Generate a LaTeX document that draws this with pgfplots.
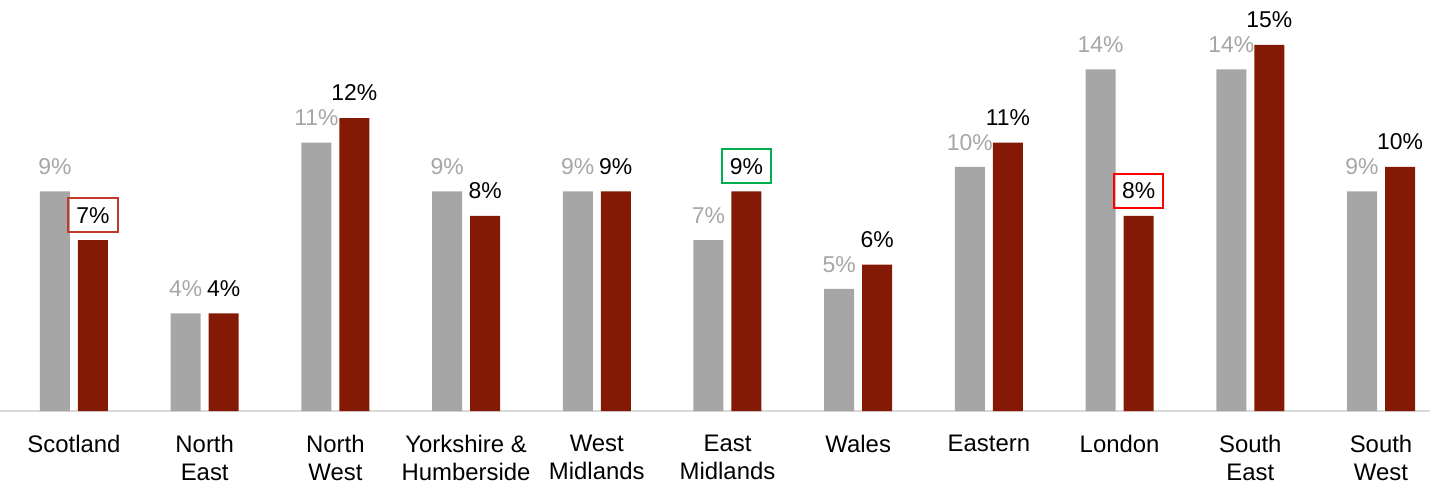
\documentclass[border=0pt]{standalone}
\usepackage{pgfplots}
\usepackage{pgfplotstable}
\pgfplotsset{compat=1.18}
\usepackage{fontspec}
\setmainfont{Liberation Sans}
\definecolor{bargrey}{HTML}{A6A6A6}
\definecolor{barred}{HTML}{841A06}
\definecolor{axgrey}{HTML}{D9D9D9}
\definecolor{boxdark}{HTML}{C0392B}
\definecolor{boxbright}{HTML}{FF0000}
\definecolor{boxgreen}{HTML}{00B050}

\pgfplotstableread{
x grey red
0 9 7
1 4 4
2 11 12
3 9 8
4 9 9
5 7 9
6 5 6
7 10 11
8 14 8
9 14 15
10 9 10
}\data

\begin{document}
\begin{tikzpicture}
\begin{axis}[
  width=715bp, height=205.5bp, scale only axis,
  xmin=-0.566, xmax=10.375, ymin=0, ymax=16.84,
  axis y line=none, axis x line*=bottom,
  x axis line style={draw=axgrey, line width=1bp, -},
  xtick={0,...,10},
  xticklabels={Scotland, North\\East, North\\West, Yorkshire \&\\Humberside, West\\Midlands, East\\Midlands, Wales, Eastern, London, South\\East, South\\West},
  major tick length=0pt,
  xticklabel style={align=center, font=\fontsize{12}{13.8}\selectfont, inner sep=0pt, anchor=north, yshift=-12bp},
  /pgf/number format/assume math mode=true,
  ybar, bar width=15bp,
  nodes near coords={\pgfmathprintnumber[fixed,precision=0,assume math mode=true]{\pgfplotspointmeta}\%},
  every node near coord/.append style={font=\fontsize{11.5}{13}\selectfont, inner xsep=4bp, inner ysep=4.5bp, yshift=3.5bp, anchor=south},
  clip=false,
]
\addplot[fill=bargrey, draw=none, bar shift=-9.5bp,
  every node near coord/.append style={text=bargrey}]
  table[x=x, y=grey] {\data};
\addplot[fill=barred, draw=none, bar shift=9.5bp,
  every node near coord/.append style={text=black, line width=1bp},
  every node near coord/.append code={%
    \ifnum\coordindex=0 \pgfkeysalso{draw=boxdark}\fi
    \ifnum\coordindex=5 \pgfkeysalso{draw=boxgreen}\fi
    \ifnum\coordindex=8 \pgfkeysalso{draw=boxbright}\fi}]
  table[x=x, y=red] {\data};
\end{axis}
\pgfresetboundingbox
\path[use as bounding box] ([yshift=-37.5bp]current axis.south west) rectangle (current axis.north east);
\end{tikzpicture}
\end{document}
